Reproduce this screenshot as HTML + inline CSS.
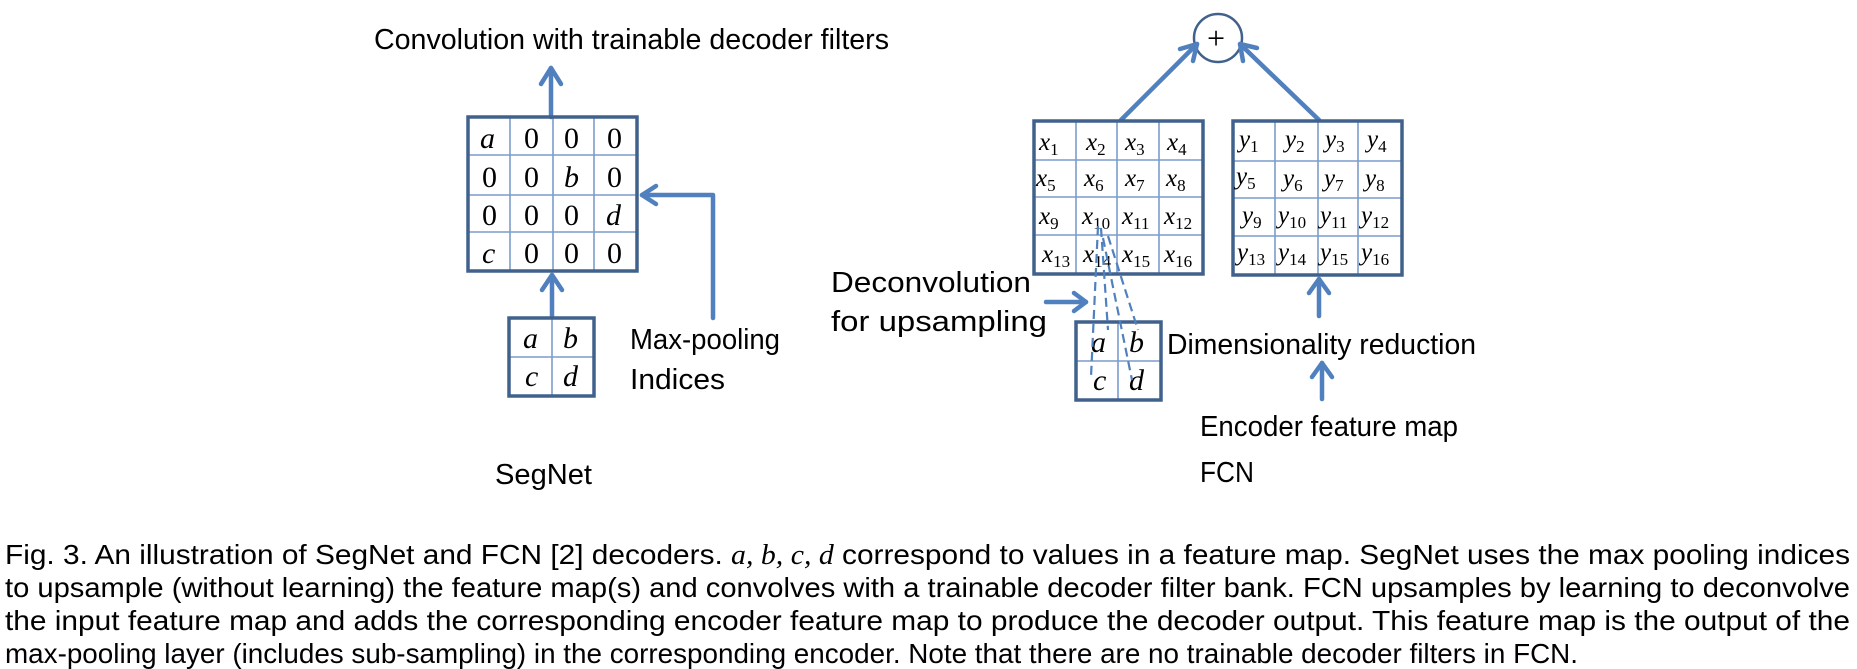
<!DOCTYPE html>
<html><head><meta charset="utf-8"><style>
html,body{margin:0;padding:0;background:#fff;}
svg{display:block;}
.lbl{font-family:"Liberation Sans",sans-serif;font-size:29px;fill:#000;}
.m{font-family:"Liberation Serif",serif;font-style:italic;font-size:30px;fill:#000;}
.n{font-family:"Liberation Serif",serif;font-size:30px;fill:#000;}
.xs{font-family:"Liberation Serif",serif;font-style:italic;font-size:25px;fill:#000;}
.sub{font-size:17px;font-style:normal;}
.cap{font-family:"Liberation Sans",sans-serif;font-size:28px;fill:#000;}
.in{stroke:#7b9ccb;stroke-width:1.6;fill:none;}
.out{stroke:#41618d;stroke-width:3.5;fill:none;}
.ar{stroke:#5080bd;stroke-width:4.5;fill:none;stroke-linecap:round;stroke-linejoin:round;}
.ds{stroke:#5080bd;stroke-width:2.2;stroke-dasharray:9,5;fill:none;}
</style></head><body>
<svg width="1857" height="669" viewBox="0 0 1857 669" xmlns="http://www.w3.org/2000/svg">
<!-- SegNet -->
<text class="lbl" x="374" y="49" textLength="515" lengthAdjust="spacingAndGlyphs">Convolution with trainable decoder filters</text>
<line class="ar" x1="551" y1="117" x2="551" y2="68"/>
<polyline class="ar" points="541,84 551,68 561,84"/>
<g>
<line class="in" x1="510" y1="117" x2="510" y2="271"/><line class="in" x1="553" y1="117" x2="553" y2="271"/><line class="in" x1="594" y1="117" x2="594" y2="271"/>
<line class="in" x1="468" y1="155" x2="637" y2="155"/><line class="in" x1="468" y1="195" x2="637" y2="195"/><line class="in" x1="468" y1="232" x2="637" y2="232"/>
<rect class="out" x="468" y="117" width="169" height="154"/>
</g>
<text class="m" x="480" y="148">a</text><text class="n" x="524" y="148">0</text><text class="n" x="564" y="148">0</text><text class="n" x="607" y="148">0</text>
<text class="n" x="482" y="187">0</text><text class="n" x="524" y="187">0</text><text class="m" x="564" y="187">b</text><text class="n" x="607" y="187">0</text>
<text class="n" x="482" y="225">0</text><text class="n" x="524" y="225">0</text><text class="n" x="564" y="225">0</text><text class="m" x="606" y="225">d</text>
<text class="m" x="482" y="263">c</text><text class="n" x="524" y="263">0</text><text class="n" x="564" y="263">0</text><text class="n" x="607" y="263">0</text>
<line class="ar" x1="552" y1="317" x2="552" y2="275"/>
<polyline class="ar" points="542,290 552,275 562,290"/>
<line class="in" x1="552" y1="318" x2="552" y2="396"/><line class="in" x1="509" y1="357" x2="594" y2="357"/>
<rect class="out" x="509" y="318" width="85" height="78"/>
<text class="m" x="523" y="348">a</text><text class="m" x="563" y="348">b</text>
<text class="m" x="525" y="386">c</text><text class="m" x="563" y="386">d</text>
<polyline class="ar" points="713,318 713,195 642,195"/>
<polyline class="ar" points="656,186 642,195 656,204"/>
<text class="lbl" x="630" y="349" textLength="150" lengthAdjust="spacingAndGlyphs">Max-pooling</text>
<text class="lbl" x="630" y="389" textLength="95" lengthAdjust="spacingAndGlyphs">Indices</text>
<text class="lbl" x="495" y="484" textLength="97" lengthAdjust="spacingAndGlyphs">SegNet</text>

<!-- FCN -->
<circle cx="1218" cy="38" r="24" stroke="#41618d" stroke-width="2.5" fill="#fff"/>
<text class="n" x="1207" y="49" style="font-style:normal;font-size:32px">+</text>
<line class="ar" x1="1121" y1="120" x2="1197" y2="44"/>
<polyline class="ar" points="1180,49 1197,44 1193,61"/>
<line class="ar" x1="1319" y1="120" x2="1240" y2="44"/>
<polyline class="ar" points="1243,61 1240,44 1257,48"/>

<g>
<line class="in" x1="1076" y1="121" x2="1076" y2="274"/><line class="in" x1="1117" y1="121" x2="1117" y2="274"/><line class="in" x1="1159" y1="121" x2="1159" y2="274"/>
<line class="in" x1="1034" y1="160" x2="1203" y2="160"/><line class="in" x1="1034" y1="197" x2="1203" y2="197"/><line class="in" x1="1034" y1="235" x2="1203" y2="235"/>
<rect class="out" x="1034" y="121" width="169" height="153"/>
</g>
<g class="xs">
<text x="1039" y="150">x<tspan class="sub" dy="5">1</tspan></text><text x="1086" y="150">x<tspan class="sub" dy="5">2</tspan></text><text x="1125" y="150">x<tspan class="sub" dy="5">3</tspan></text><text x="1167" y="150">x<tspan class="sub" dy="5">4</tspan></text>
<text x="1036" y="186">x<tspan class="sub" dy="5">5</tspan></text><text x="1084" y="186">x<tspan class="sub" dy="5">6</tspan></text><text x="1125" y="186">x<tspan class="sub" dy="5">7</tspan></text><text x="1166" y="186">x<tspan class="sub" dy="5">8</tspan></text>
<text x="1039" y="224">x<tspan class="sub" dy="5">9</tspan></text><text x="1082" y="224">x<tspan class="sub" dy="5">10</tspan></text><text x="1122" y="224">x<tspan class="sub" dy="5">11</tspan></text><text x="1164" y="224">x<tspan class="sub" dy="5">12</tspan></text>
<text x="1042" y="262">x<tspan class="sub" dy="5">13</tspan></text><text x="1083" y="262">x<tspan class="sub" dy="5">14</tspan></text><text x="1122" y="262">x<tspan class="sub" dy="5">15</tspan></text><text x="1164" y="262">x<tspan class="sub" dy="5">16</tspan></text>
</g>

<g>
<line class="in" x1="1275" y1="121" x2="1275" y2="275"/><line class="in" x1="1318" y1="121" x2="1318" y2="275"/><line class="in" x1="1358" y1="121" x2="1358" y2="275"/>
<line class="in" x1="1233" y1="161" x2="1402" y2="161"/><line class="in" x1="1233" y1="198" x2="1402" y2="198"/><line class="in" x1="1233" y1="236" x2="1402" y2="236"/>
<rect class="out" x="1233" y="121" width="169" height="154"/>
</g>
<g class="xs">
<text x="1239" y="147">y<tspan class="sub" dy="5">1</tspan></text><text x="1285" y="147">y<tspan class="sub" dy="5">2</tspan></text><text x="1325" y="147">y<tspan class="sub" dy="5">3</tspan></text><text x="1367" y="147">y<tspan class="sub" dy="5">4</tspan></text>
<text x="1236" y="184">y<tspan class="sub" dy="5">5</tspan></text><text x="1283" y="186">y<tspan class="sub" dy="5">6</tspan></text><text x="1324" y="186">y<tspan class="sub" dy="5">7</tspan></text><text x="1365" y="186">y<tspan class="sub" dy="5">8</tspan></text>
<text x="1242" y="223">y<tspan class="sub" dy="5">9</tspan></text><text x="1278" y="223">y<tspan class="sub" dy="5">10</tspan></text><text x="1320" y="223">y<tspan class="sub" dy="5">11</tspan></text><text x="1361" y="223">y<tspan class="sub" dy="5">12</tspan></text>
<text x="1237" y="260">y<tspan class="sub" dy="5">13</tspan></text><text x="1278" y="260">y<tspan class="sub" dy="5">14</tspan></text><text x="1320" y="260">y<tspan class="sub" dy="5">15</tspan></text><text x="1361" y="260">y<tspan class="sub" dy="5">16</tspan></text>
</g>

<!-- deconvolution -->
<text class="lbl" x="831" y="292" textLength="200" lengthAdjust="spacingAndGlyphs">Deconvolution</text>
<text class="lbl" x="831" y="331" textLength="216" lengthAdjust="spacingAndGlyphs">for upsampling</text>
<line class="ar" x1="1046" y1="302" x2="1086" y2="302"/>
<polyline class="ar" points="1074,293 1086,302 1074,311"/>
<line class="in" x1="1118" y1="322" x2="1118" y2="400"/><line class="in" x1="1076" y1="361" x2="1161" y2="361"/>
<rect class="out" x="1076" y="322" width="85" height="78"/>
<text class="m" x="1091" y="352">a</text><text class="m" x="1129" y="352">b</text>
<text class="m" x="1093" y="390">c</text><text class="m" x="1129" y="390">d</text>
<line class="ds" x1="1098" y1="226" x2="1091" y2="377"/>
<line class="ds" x1="1101" y1="228" x2="1108" y2="330"/>
<line class="ds" x1="1103" y1="238" x2="1132" y2="380"/>
<line class="ds" x1="1108" y1="236" x2="1138" y2="330"/>

<text class="lbl" x="1167" y="354" textLength="309" lengthAdjust="spacingAndGlyphs">Dimensionality reduction</text>
<line class="ar" x1="1319" y1="316" x2="1319" y2="279"/>
<polyline class="ar" points="1309,293 1319,279 1329,293"/>
<line class="ar" x1="1322" y1="399" x2="1322" y2="363"/>
<polyline class="ar" points="1312,377 1322,363 1332,377"/>
<text class="lbl" x="1200" y="436" textLength="258" lengthAdjust="spacingAndGlyphs">Encoder feature map</text>
<text class="lbl" x="1200" y="482" textLength="54" lengthAdjust="spacingAndGlyphs">FCN</text>

<!-- caption -->
<text class="cap" x="5" y="564" textLength="1845" lengthAdjust="spacingAndGlyphs">Fig. 3. An illustration of SegNet and FCN [2] decoders. <tspan font-family="Liberation Serif" font-style="italic">a, b, c, d</tspan> correspond to values in a feature map. SegNet uses the max pooling indices</text>
<text class="cap" x="5" y="597" textLength="1845" lengthAdjust="spacingAndGlyphs">to upsample (without learning) the feature map(s) and convolves with a trainable decoder filter bank. FCN upsamples by learning to deconvolve</text>
<text class="cap" x="5" y="630" textLength="1845" lengthAdjust="spacingAndGlyphs">the input feature map and adds the corresponding encoder feature map to produce the decoder output. This feature map is the output of the</text>
<text class="cap" x="5" y="663" textLength="1573" lengthAdjust="spacingAndGlyphs">max-pooling layer (includes sub-sampling) in the corresponding encoder. Note that there are no trainable decoder filters in FCN.</text>
</svg>
</body></html>
